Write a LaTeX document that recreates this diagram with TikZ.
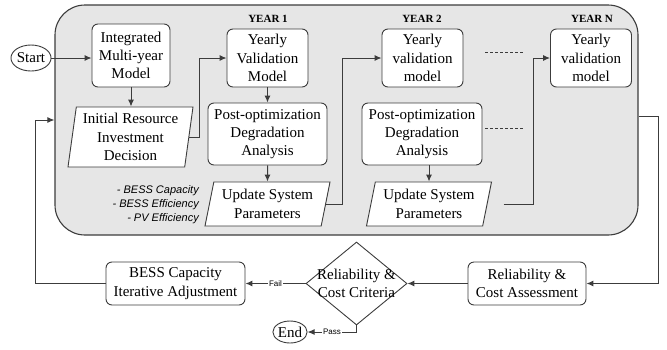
\documentclass[tikz,border=0pt]{standalone}
\usepackage{fontspec}
\setmainfont{Liberation Serif}
\setsansfont{Liberation Sans}
\usetikzlibrary{shapes.geometric,arrows.meta}
\definecolor{lc}{HTML}{3C3C3C}
\definecolor{panelgray}{HTML}{E6E6E6}
\newcommand\mainfs{\fontsize{15}{18.3}\selectfont}
\begin{document}
\begin{tikzpicture}[x=1pt,y=-1pt,
  panelbox/.style={draw=lc, fill=panelgray, line width=1.1pt, rounded corners=30pt, inner sep=0pt},
  box/.style={draw=lc, fill=white, line width=0.9pt, rounded corners=6pt, align=center, font=\mainfs, inner sep=0pt},
  para/.style={draw=lc, fill=white, line width=0.9pt, trapezium, trapezium stretches body, align=center, font=\mainfs, inner sep=0pt},
  ell/.style={draw=lc, fill=white, line width=0.9pt, ellipse, font=\mainfs, inner sep=0pt},
  dia/.style={draw=lc, fill=white, line width=0.9pt, diamond, inner sep=0pt},
  yr/.style={font=\bfseries\fontsize{11}{13}\selectfont, inner sep=0pt},
  side/.style={font=\sffamily\itshape\fontsize{11}{14}\selectfont, align=right, inner sep=0pt},
  tag/.style={font=\sffamily\fontsize{8}{9}\selectfont, fill=white, inner sep=1pt},
  arr/.style={draw=lc, line width=1pt, -{Latex[length=7pt,width=6pt]}},
  ln/.style={draw=lc, line width=1pt},
]
\useasboundingbox (0,0) rectangle (667,349);

\node[panelbox, minimum width=583pt, minimum height=230pt] (panel) at (346.5,120) {};

\node[ell, minimum width=36pt, minimum height=26pt] (start) at (31,58) {Start};
\node[box, minimum width=78pt, minimum height=63pt] (imm) at (131,55.5) {Integrated\\Multi-year\\Model};
\node[para, trapezium left angle=80, trapezium right angle=100, minimum width=125pt, minimum height=60pt] (ird) at (130.5,137) {Initial Resource\\Investment\\Decision};

\node[yr] (y1) at (268,19) {YEAR 1};
\node[yr] (y2) at (422,19) {YEAR 2};
\node[yr] (yn) at (592,19) {YEAR N};

\node[box, minimum width=81pt, minimum height=58pt] (yv1) at (267.5,58) {Yearly\\Validation\\Model};
\node[box, minimum width=119pt, minimum height=62pt] (po1) at (267.5,134) {Post-optimization\\Degradation\\Analysis};
\node[para, trapezium left angle=73, trapezium right angle=107, minimum width=125pt, minimum height=44pt] (us1) at (267.5,204) {Update System\\Parameters};
\node[side, anchor=east] (par) at (199,205) {- BESS Capacity\\- BESS Efficiency\\- PV Efficiency};

\node[box, minimum width=81pt, minimum height=58pt] (yv2) at (422.5,58) {Yearly\\validation\\model};
\node[box, minimum width=120pt, minimum height=62pt] (po2) at (422,134) {Post-optimization\\Degradation\\Analysis};
\node[para, trapezium left angle=73, trapezium right angle=107, minimum width=125pt, minimum height=44pt] (us2) at (429,204) {Update System\\Parameters};

\node[box, minimum width=81pt, minimum height=58pt] (yvn) at (591,58) {Yearly\\validation\\model};

\node[box, minimum width=118pt, minimum height=43pt] (rca) at (527,283.5) {Reliability \&\\Cost Assessment};
\node[dia, minimum width=101pt, minimum height=83pt] (dm) at (356.5,283.5) {};
\node[align=center, font=\mainfs, inner sep=0pt] (dmt) at (dm.center) {Reliability \&\\Cost Criteria};
\node[box, minimum width=139pt, minimum height=43pt] (bess) at (175.5,283.5) {BESS Capacity\\Iterative Adjustment};
\node[ell, minimum width=34pt, minimum height=22pt] (endn) at (290,332) {End};

% connectors
\draw[arr] (start.east) -- (start.east -| imm.west);
\draw[arr] (imm.south) -- (imm.south |- ird.north);
\draw[arr] (ird.east) -| ([xshift=-27pt]yv1.west) -- (yv1.west);
\draw[arr] (yv1.south) -- (po1.north);
\draw[arr] (po1.south) -- (us1.north);
\draw[arr] (us1.east) -| ([xshift=-39pt]yv2.west) -- (yv2.west);
\draw[arr] (us2.north |- po2.south) -- (us2.north);
\draw[arr] ([xshift=16pt]us2.east) -| ([xshift=-17pt]yvn.west) -- (yvn.west);
\draw[ln, dash pattern=on 3pt off 2pt] ([shift={(22pt,6pt)}]yv2.east) -- ++(38pt,0pt);
\draw[ln, dash pattern=on 3pt off 2pt] ([shift={(3pt,6pt)}]po2.east) -- ++(38pt,0pt);
\draw[arr] ([yshift=4pt]panel.east) -| ([xshift=72pt]rca.east) -- (rca.east);
\draw[arr] (rca.west) -- (dm.east);
\draw[arr] (dm.west) -- node[tag] {Fail} (bess.east);
\draw[arr] (dm.south) |- node[tag, pos=0.75] {Pass} (endn.east);
\draw[arr] (bess.west) -| ([xshift=-19pt]panel.west) -- (panel.west);
\end{tikzpicture}
\end{document}
